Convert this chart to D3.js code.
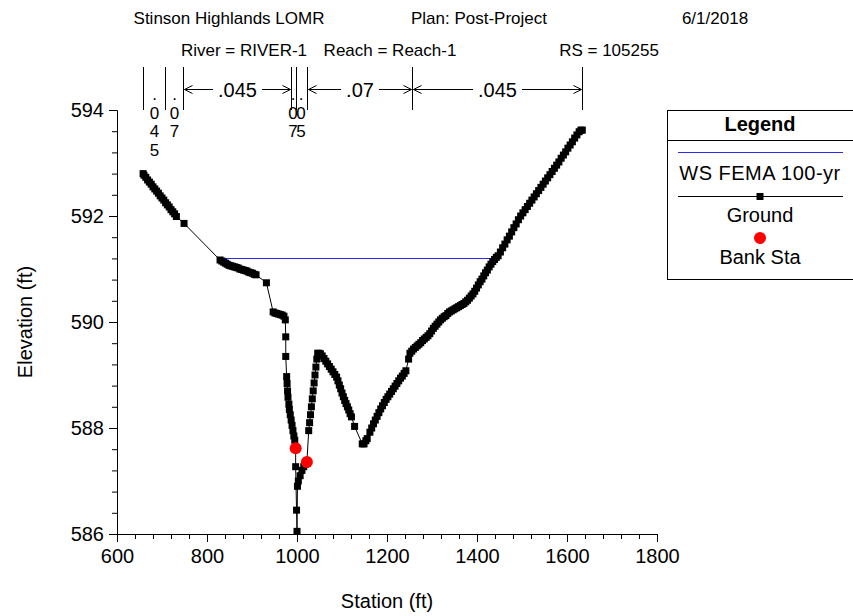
<!DOCTYPE html>
<html>
<head>
<meta charset="utf-8">
<script src="https://cdn.jsdelivr.net/npm/d3@7"></script>
<style>
  html, body { margin: 0; padding: 0; background: #fff; }
  svg { display: block; font-family: "Liberation Sans", Arial, sans-serif; }
</style>
</head>
<body>
<svg id="chart" width="853" height="616"></svg>
<script>
// Ground survey points of the cross section (station ft, elevation ft)
const groundStation = [
  658, 660, 664, 668, 672, 676, 680, 684, 688, 692, 696, 700, 704, 708, 712, 716, 720, 724, 728, 732,
  749,
  829, 833, 837, 841, 845, 849, 853, 857, 861, 865, 869, 873, 877, 881, 885, 889, 893, 897, 901, 905, 909,
  932,
  947, 951, 955, 959, 963, 967, 971, 974,
  975, 975, 977, 978, 979, 980, 982, 983, 985, 987, 989, 991, 993, 995, 997, 997, 999, 1000,
  1001, 1003, 1007, 1011, 1015, 1019, 1022,
  1026, 1028, 1030, 1032, 1034, 1036, 1038, 1040, 1042, 1044, 1046, 1049,
  1052, 1056, 1060, 1064, 1068, 1072, 1076, 1080, 1084, 1088, 1091, 1094, 1097, 1100, 1103, 1106, 1109, 1112, 1115, 1118, 1121,
  1128, 1145, 1149, 1153, 1156, 1162,
  1166, 1170, 1174, 1178, 1182, 1186, 1190, 1194, 1198, 1202, 1206, 1210, 1214, 1218, 1222, 1226, 1230, 1234, 1238, 1242,
  1248, 1251, 1255, 1259, 1263, 1267, 1271, 1275, 1279, 1283, 1287, 1291, 1295,
  1299, 1303, 1307, 1311, 1315, 1319, 1323, 1327, 1331,
  1335, 1339, 1343, 1347, 1351, 1355, 1359, 1363, 1367, 1371, 1375, 1379, 1383, 1387, 1391,
  1395, 1399, 1403, 1407, 1411, 1415, 1419, 1423, 1427, 1431, 1435, 1439, 1443,
  1447, 1452, 1457, 1462, 1467, 1472, 1477, 1482, 1487, 1492, 1497, 1502, 1507, 1512, 1517, 1522, 1527, 1532,
  1537, 1542, 1547, 1552, 1557, 1562, 1567, 1572, 1577, 1582, 1587, 1592, 1597, 1602, 1607, 1612, 1617, 1622,
  1627, 1631, 1634
];
const groundElev = [
  592.80, 592.77, 592.73, 592.68, 592.64, 592.60, 592.55, 592.51, 592.47, 592.43, 592.38, 592.34, 592.30, 592.25, 592.21, 592.17, 592.12, 592.08, 592.04, 591.99,
  591.86,
  591.17, 591.15, 591.13, 591.11, 591.09, 591.07, 591.06, 591.05, 591.04, 591.03, 591.02, 591.00, 590.99, 590.98, 590.97, 590.96, 590.94, 590.93, 590.92, 590.90, 590.89,
  590.74,
  590.19, 590.17, 590.16, 590.15, 590.14, 590.13, 590.11, 590.04,
  589.72, 589.35, 588.97, 588.84, 588.70, 588.58, 588.45, 588.35, 588.25, 588.15, 588.05, 587.95, 587.85, 587.77, 587.62, 587.27, 586.45, 586.05,
  586.90, 587.00, 587.10, 587.20, 587.27, 587.32, 587.36,
  587.95, 588.10, 588.25, 588.40, 588.55, 588.70, 588.85, 589.00, 589.15, 589.30, 589.41, 589.41,
  589.40, 589.36, 589.31, 589.26, 589.21, 589.16, 589.11, 589.06, 589.01, 588.96, 588.89, 588.81, 588.74, 588.66, 588.59, 588.52, 588.46, 588.40, 588.34, 588.27, 588.21,
  588.03, 587.70, 587.70, 587.76, 587.80, 587.92,
  588.00, 588.08, 588.15, 588.22, 588.29, 588.36, 588.42, 588.48, 588.54, 588.59, 588.64, 588.69, 588.74, 588.79, 588.84, 588.89, 588.94, 588.98, 589.03, 589.08,
  589.30, 589.41, 589.45, 589.49, 589.52, 589.55, 589.58, 589.61, 589.65, 589.68, 589.71, 589.74, 589.78,
  589.83, 589.88, 589.92, 589.96, 590.00, 590.04, 590.07, 590.10, 590.12,
  590.16, 590.19, 590.21, 590.23, 590.25, 590.27, 590.29, 590.31, 590.33, 590.35, 590.38, 590.41, 590.45, 590.49, 590.53,
  590.58, 590.64, 590.70, 590.76, 590.81, 590.87, 590.93, 590.98, 591.04, 591.09, 591.14, 591.18, 591.22,
  591.25, 591.32, 591.40, 591.47, 591.55, 591.62, 591.70, 591.78, 591.85, 591.93, 592.00, 592.06, 592.12, 592.18, 592.24, 592.30, 592.36, 592.42,
  592.48, 592.54, 592.60, 592.66, 592.72, 592.78, 592.84, 592.90, 592.96, 593.02, 593.09, 593.15, 593.21, 593.28, 593.34, 593.40, 593.47, 593.53,
  593.59, 593.62, 593.62
];

// Water surface (WS FEMA 100-yr) extent and elevation
const wsStation = [825, 1441];
const wsElev = [591.2, 591.2];

// Bank stations
const bankStation = [997, 1022];
const bankElev = [587.62, 587.36];

// Manning's n breakpoints and values between them
const nBreaks = [658, 707, 747, 987, 997, 1023, 1255, 1633];
const nValues = [".045", ".07", ".045", ".07", ".05", ".07", ".045"];

// Axis ticks
const xMajorTicks = [600, 800, 1000, 1200, 1400, 1600, 1800];
const yMajorTicks = [586, 588, 590, 592, 594];

const svg = d3.select("#chart");
const FS = 20;
const TS = 17;

const x = d3.scaleLinear().domain([600, 1800]).range([117, 657]);
const y = d3.scaleLinear().domain([586, 594]).range([534, 110]);

// Titles
const titleParts = [
  { t: "Stinson Highlands LOMR", x: 229, y: 24 },
  { t: "Plan: Post-Project", x: 479, y: 24 },
  { t: "6/1/2018", x: 715, y: 24 },
  { t: "River = RIVER-1", x: 244, y: 56 },
  { t: "Reach = Reach-1", x: 390, y: 56 },
  { t: "RS = 105255", x: 609, y: 56 }
];
svg.selectAll("text.title").data(titleParts).enter().append("text")
  .attr("class", "title")
  .attr("x", d => d.x).attr("y", d => d.y)
  .attr("text-anchor", "middle")
  .attr("font-size", TS).attr("fill", "#000")
  .text(d => d.t);

// Axes
const xMinor = d3.range(600, 1801, 40).filter(v => !xMajorTicks.includes(v));
const yMinor = d3.range(0, 21).map(i => 586 + i * 0.4).filter(v => Math.abs(v - Math.round(v / 2) * 2) > 1e-6);

const gx = svg.append("g").attr("transform", `translate(0,${y(586)})`)
  .call(d3.axisBottom(x).tickValues(xMajorTicks).tickSize(8).tickPadding(7).tickFormat(d3.format("d")));
svg.append("g").attr("transform", `translate(0,${y(586)})`)
  .call(d3.axisBottom(x).tickValues(xMinor).tickSize(5).tickFormat(""))
  .select(".domain").remove();

const gy = svg.append("g").attr("transform", `translate(${x(600)},0)`)
  .call(d3.axisLeft(y).tickValues(yMajorTicks).tickSize(8).tickPadding(5).tickFormat(d3.format("d")));
svg.append("g").attr("transform", `translate(${x(600)},0)`)
  .call(d3.axisLeft(y).tickValues(yMinor).tickSize(5).tickFormat(""))
  .select(".domain").remove();

svg.selectAll(".domain").attr("stroke", "#000").attr("stroke-width", 1);
svg.selectAll(".tick line").attr("stroke", "#000");
gx.selectAll(".tick text").attr("font-size", FS).attr("font-family", "Liberation Sans, Arial, sans-serif").attr("fill", "#000");
gy.selectAll(".tick text").attr("font-size", FS).attr("font-family", "Liberation Sans, Arial, sans-serif").attr("fill", "#000");

// Axis titles
svg.append("text").attr("x", 387).attr("y", 608).attr("text-anchor", "middle")
  .attr("font-size", FS).text("Station (ft)");
svg.append("text").attr("transform", `translate(32,322) rotate(-90)`).attr("text-anchor", "middle")
  .attr("font-size", FS).text("Elevation (ft)");

// Manning's n annotation
const nTop = 67, nBottom = 110, arrowY = 89.5;
svg.selectAll("line.nbreak").data(nBreaks).enter().append("line")
  .attr("class", "nbreak")
  .attr("x1", d => Math.round(x(d)) + 0.5).attr("x2", d => Math.round(x(d)) + 0.5)
  .attr("y1", nTop).attr("y2", nBottom)
  .attr("stroke", "#000").attr("stroke-width", 1);

nValues.forEach((v, i) => {
  const x0 = Math.round(x(nBreaks[i])) + 0.5, x1 = Math.round(x(nBreaks[i + 1])) + 0.5;
  let cx = (x0 + x1) / 2;
  if (x1 - x0 > 60) {
    const t = svg.append("text").attr("x", cx).attr("y", arrowY + 7)
      .attr("text-anchor", "middle").attr("font-size", FS).text(v);
    const w = t.node().getComputedTextLength();
    const gap = 5;
    const a0 = cx - w / 2 - gap, a1 = cx + w / 2 + gap;
    const arrow = svg.append("g").attr("stroke", "#000").attr("stroke-width", 1).attr("fill", "none");
    arrow.append("line").attr("x1", x0 + 1).attr("x2", a0).attr("y1", arrowY).attr("y2", arrowY);
    arrow.append("line").attr("x1", a1).attr("x2", x1 - 1).attr("y1", arrowY).attr("y2", arrowY);
    arrow.append("path").attr("d", `M${x0 + 9},${arrowY - 4}L${x0 + 1},${arrowY}L${x0 + 9},${arrowY + 4}`);
    arrow.append("path").attr("d", `M${x1 - 9},${arrowY - 4}L${x1 - 1},${arrowY}L${x1 - 9},${arrowY + 4}`);
  } else {
    // narrow sub-areas: stack the characters vertically
    if (x1 - x0 < 12) cx -= 1;
    const chars = v.split("");
    chars.forEach((c, k) => {
      svg.append("text").attr("x", cx).attr("y", 100 + k * 18.5)
        .attr("text-anchor", "middle").attr("font-size", 17).text(c);
    });
  }
});

// Water surface line
svg.append("line")
  .attr("x1", x(wsStation[0])).attr("x2", x(wsStation[1]))
  .attr("y1", Math.round(y(wsElev[0])) + 0.5).attr("y2", Math.round(y(wsElev[1])) + 0.5)
  .attr("stroke", "#2b2bf0").attr("stroke-width", 1.2);

// Ground line and markers
const ground = groundStation.map((s, i) => [s, groundElev[i]]);
svg.append("path").datum(ground)
  .attr("d", d3.line().x(d => x(d[0])).y(d => y(d[1])))
  .attr("fill", "none").attr("stroke", "#000").attr("stroke-width", 1);
const ms = 7;
svg.append("g").selectAll("rect").data(ground).enter().append("rect")
  .attr("x", d => x(d[0]) - ms / 2).attr("y", d => y(d[1]) - ms / 2)
  .attr("width", ms).attr("height", ms).attr("fill", "#000");

// Bank stations
svg.append("g").selectAll("circle").data(bankStation).enter().append("circle")
  .attr("cx", d => x(d)).attr("cy", (d, i) => y(bankElev[i]))
  .attr("r", 6).attr("fill", "#ff0000");

// Legend
const lg = svg.append("g");
lg.append("rect").attr("x", 667.5).attr("y", 110.5).attr("width", 200).attr("height", 169)
  .attr("fill", "#fff").attr("stroke", "#000").attr("stroke-width", 1);
lg.append("line").attr("x1", 667.5).attr("x2", 868).attr("y1", 140.5).attr("y2", 140.5)
  .attr("stroke", "#000");
lg.append("text").attr("x", 760).attr("y", 131).attr("text-anchor", "middle")
  .attr("font-size", FS).attr("font-weight", "bold").text("Legend");
lg.append("line").attr("x1", 678).attr("x2", 843).attr("y1", 152.5).attr("y2", 152.5)
  .attr("stroke", "#2b2bf0").attr("stroke-width", 1.2);
lg.append("text").attr("x", 760).attr("y", 180).attr("text-anchor", "middle")
  .attr("font-size", FS).attr("letter-spacing", 0.5).text("WS FEMA 100-yr");
lg.append("line").attr("x1", 678).attr("x2", 843).attr("y1", 196.5).attr("y2", 196.5)
  .attr("stroke", "#000");
lg.append("rect").attr("x", 760 - 3.5).attr("y", 196.5 - 3.5).attr("width", 7).attr("height", 7).attr("fill", "#000");
lg.append("text").attr("x", 760).attr("y", 222).attr("text-anchor", "middle")
  .attr("font-size", FS).text("Ground");
lg.append("circle").attr("cx", 760).attr("cy", 238).attr("r", 6).attr("fill", "#ff0000");
lg.append("text").attr("x", 760).attr("y", 264).attr("text-anchor", "middle")
  .attr("font-size", FS).text("Bank Sta");
</script>
</body>
</html>
